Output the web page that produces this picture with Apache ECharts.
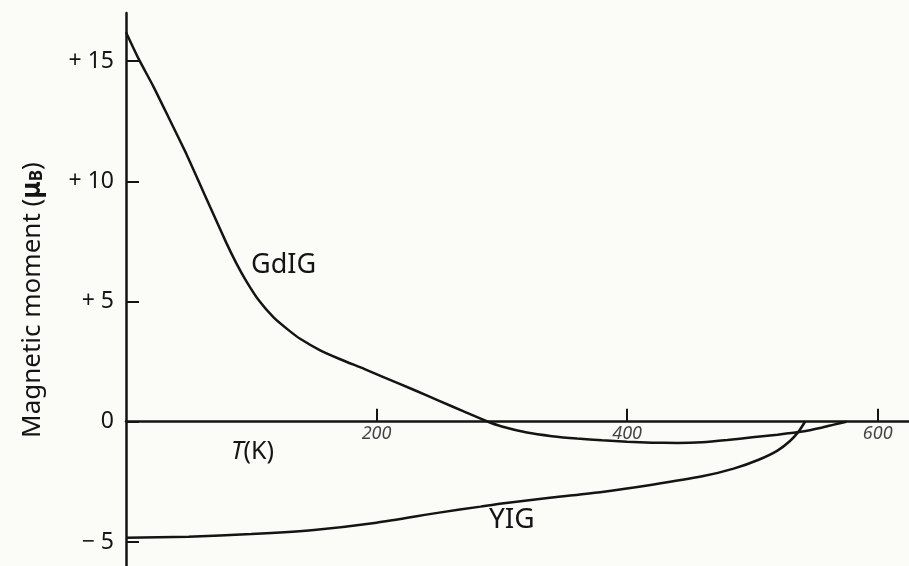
<!DOCTYPE html>
<html>
<head>
<meta charset="utf-8">
<script src="https://cdn.jsdelivr.net/npm/echarts@6/dist/echarts.min.js"></script>
<style>html,body{margin:0;padding:0;background:#fbfbf8;}#c{width:909px;height:566px;}</style>
</head>
<body>
<div id="c"></div>
<script>
// Temperature (K) and magnetic moment (μB)
const gdigT = [0, 10, 22, 35, 48, 58, 67, 80, 88, 96, 106, 118, 130, 139, 155, 171, 190, 205, 230, 250, 270, 288, 300, 320, 340, 360, 380, 400, 420, 440, 460, 480, 500, 520, 540, 555, 565, 575];
const gdigM = [16.2, 15.1, 13.93, 12.55, 11.16, 10.0, 8.95, 7.45, 6.6, 5.85, 5.05, 4.33, 3.8, 3.45, 2.97, 2.6, 2.2, 1.87, 1.32, 0.87, 0.42, 0.02, -0.2, -0.45, -0.6, -0.7, -0.77, -0.83, -0.87, -0.88, -0.85, -0.76, -0.65, -0.54, -0.41, -0.25, -0.12, 0.0];
const yigT = [0, 50, 100, 150, 200, 250, 283, 300, 340, 380, 420, 460, 485, 505, 520, 530, 537, 542];
const yigM = [-4.82, -4.78, -4.67, -4.5, -4.2, -3.78, -3.53, -3.4, -3.15, -2.92, -2.62, -2.27, -1.95, -1.58, -1.2, -0.8, -0.4, 0.0];
const xTicks = [200, 400, 600];
const yTicks = [-5, 0, 5, 10, 15];
const yTickLabels = ['\u2212 5', '0', '+ 5', '+ 10', '+ 15'];

const ink = '#141414';
const font = 'Noto Sans';
const chart = echarts.init(document.getElementById('c'));
chart.setOption({
  animation: false,
  backgroundColor: '#fbfbf8',
  grid: { left: 126, right: 0, top: 13, bottom: 0, containLabel: false, outerBoundsMode: 'none' },
  xAxis: {
    type: 'value', min: 0, max: 625,
    axisLine: { show: true, onZero: true, lineStyle: { color: ink, width: 2.5 } },
    axisTick: { show: true, inside: true, length: 13, customValues: xTicks, lineStyle: { color: ink, width: 2 } },
    axisLabel: { show: false },
    splitLine: { show: false }
  },
  yAxis: {
    type: 'value', min: -6, max: 17,
    axisLine: { show: true, lineStyle: { color: ink, width: 2.5 } },
    axisTick: { show: true, inside: true, length: 13, customValues: yTicks, lineStyle: { color: ink, width: 2 } },
    axisLabel: {
      customValues: yTicks, margin: 12, color: ink, fontSize: 23, fontFamily: font,
      formatter: v => yTickLabels[yTicks.indexOf(v)]
    },
    splitLine: { show: false },
    name: '{a|Magnetic moment (}{m|\u03bc}{s|B}{a|)}',
    nameLocation: 'middle', nameRotate: 90, nameGap: 80,
    nameTextStyle: {
      color: ink, padding: [0, 21, 0, 0],
      rich: {
        a: { fontSize: 26, fontFamily: font, color: ink },
        m: { fontSize: 26, fontFamily: font, color: ink, fontWeight: 'bold' },
        s: { fontSize: 17, fontFamily: font, color: ink, fontWeight: 'bold', padding: [9, 0, 0, 0] }
      }
    }
  },
  series: [
    { name: 'GdIG', type: 'line', data: gdigT.map((t, i) => [t, gdigM[i]]), smooth: 0.2, showSymbol: false,
      lineStyle: { color: ink, width: 2.5 } },
    { name: 'YIG', type: 'line', data: yigT.map((t, i) => [t, yigM[i]]), smooth: 0.2, showSymbol: false,
      lineStyle: { color: ink, width: 2.5 } },
    { name: 'xlabels', type: 'scatter', data: xTicks.map(t => [t, 0]), symbolSize: 1,
      itemStyle: { color: 'rgba(0,0,0,0)' }, silent: true,
      label: { show: true, position: 'bottom', distance: 3, formatter: p => String(p.value[0]),
        color: ink, fontSize: 18, fontStyle: 'italic', fontFamily: font } }
  ],
  graphic: [
    { type: 'text', left: 251, top: 252, style: { text: 'GdIG', fontSize: 27, fontFamily: font, fill: ink } },
    { type: 'text', left: 489, top: 506, style: { text: 'YIG', fontSize: 28, fontFamily: font, fill: ink } },
    { type: 'text', left: 231, top: 439, style: {
        text: '{i|T}{n|(K)}', rich: {
          i: { fontSize: 25, fontFamily: font, fontStyle: 'italic', fill: ink },
          n: { fontSize: 25, fontFamily: font, fill: ink }
        } } }
  ]
});
</script>
</body>
</html>
